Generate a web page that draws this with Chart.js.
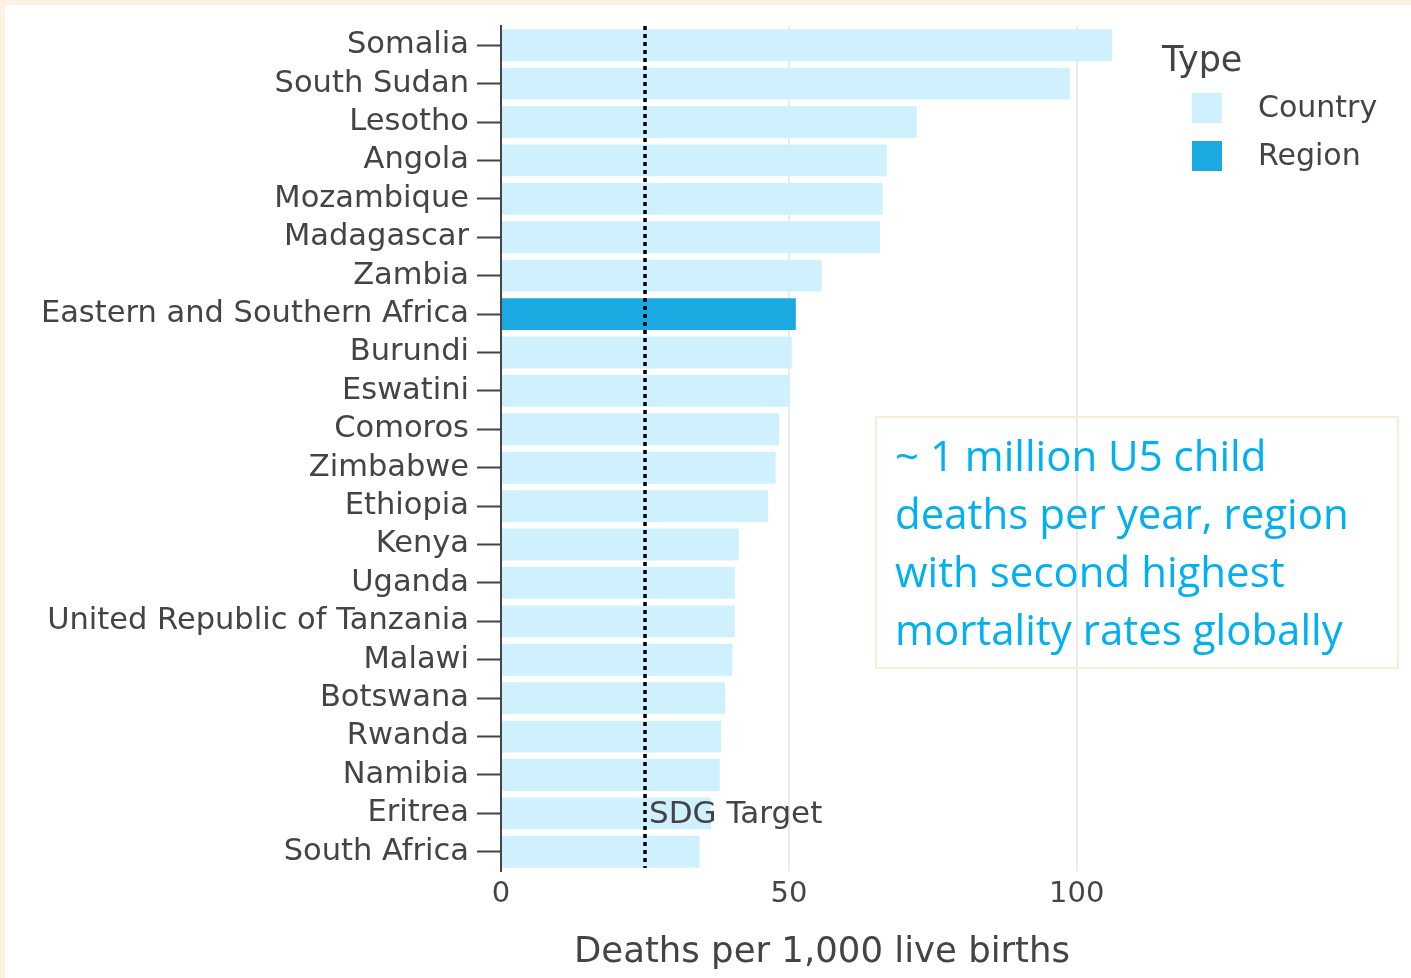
<!DOCTYPE html>
<html>
<head>
<meta charset="utf-8">
<script src="https://cdn.jsdelivr.net/npm/chart.js@4.4.1/dist/chart.umd.min.js"></script>
<style>
  html, body { margin: 0; padding: 0; background: #fbf2e3; }
  #wrap { position: absolute; left: 5px; top: 5px; width: 1406px; height: 973px; background: #fff; }
  canvas { display: block; }
</style>
</head>
<body>
<div id="wrap"><canvas id="u5Chart" width="1406" height="973"></canvas></div>
<script>
const countries = [
  'Somalia', 'South Sudan', 'Lesotho', 'Angola', 'Mozambique', 'Madagascar', 'Zambia',
  'Eastern and Southern Africa', 'Burundi', 'Eswatini', 'Comoros', 'Zimbabwe', 'Ethiopia',
  'Kenya', 'Uganda', 'United Republic of Tanzania', 'Malawi', 'Botswana', 'Rwanda',
  'Namibia', 'Eritrea', 'South Africa'
];
const u5mr = [
  106.1, 98.8, 72.2, 67.0, 66.3, 65.8, 55.7,
  51.2, 50.5, 50.2, 48.3, 47.7, 46.4,
  41.3, 40.6, 40.6, 40.2, 38.9, 38.2,
  38.0, 36.5, 34.5
];
const types = countries.map(c => c === 'Eastern and Southern Africa' ? 'Region' : 'Country');
const sdgTarget = 25;
const xTicks = [0, 50, 100];
const noteLines = [
  '~ 1 million U5 child',
  'deaths per year, region',
  'with second highest',
  'mortality rates globally'
];

const colors = { Country: '#cff1fd', Region: '#1ba9e1' };
const textColor = '#444';
const font = 'DejaVu Sans';

// Target line + label, annotation box, legend
const extras = {
  id: 'extras',
  afterDatasetsDraw(chart) {
    const { ctx, chartArea, scales } = chart;
    const x = Math.round(scales.x.getPixelForValue(sdgTarget));
    ctx.save();
    ctx.strokeStyle = '#000';
    ctx.lineWidth = 3.5;
    ctx.setLineDash([4, 4]);
    ctx.beginPath();
    ctx.moveTo(x, chartArea.top);
    ctx.lineTo(x, chartArea.bottom - 3);
    ctx.stroke();
    ctx.setLineDash([]);

    ctx.fillStyle = textColor;
    ctx.font = '31px "' + font + '"';
    ctx.textAlign = 'left';
    ctx.textBaseline = 'middle';
    ctx.fillText('SDG Target', x + 4, scales.y.getPixelForValue(countries.indexOf('Eritrea')) + 2);
    ctx.restore();
  },
  afterDraw(chart) {
    const { ctx } = chart;
    ctx.save();
    // annotation box
    ctx.strokeStyle = '#f9ecd9';
    ctx.lineWidth = 2;
    ctx.strokeRect(871, 412, 522, 251);
    ctx.fillStyle = '#00b0f0';
    ctx.font = '42px "Open Sans"';
    ctx.textAlign = 'left';
    ctx.textBaseline = 'alphabetic';
    noteLines.forEach((l, i) => ctx.fillText(l, 890, 466 + i * 58));

    // legend
    ctx.fillStyle = textColor;
    ctx.font = '35px "' + font + '"';
    ctx.fillText('Type', 1157, 66);
    ctx.font = '30px "' + font + '"';
    ['Country', 'Region'].forEach((t, i) => {
      const y = 88 + i * 48;
      ctx.fillStyle = colors[t];
      ctx.fillRect(1187, y, 30, 30);
      ctx.fillStyle = textColor;
      ctx.textBaseline = 'middle';
      ctx.fillText(t, 1253, y + 16);
    });
    ctx.restore();
  }
};

new Chart(document.getElementById('u5Chart'), {
  type: 'bar',
  data: {
    labels: countries,
    datasets: ['Country', 'Region'].map(t => ({
      label: t,
      data: u5mr.map((v, i) => types[i] === t ? v : null),
      backgroundColor: colors[t],
      grouped: false,
      barPercentage: 0.83,
      categoryPercentage: 1
    }))
  },
  options: {
    indexAxis: 'y',
    responsive: false,
    animation: false,
    layout: { padding: { top: 21, right: 268, bottom: 0, left: 0 } },
    plugins: { legend: { display: false }, tooltip: { enabled: false } },
    scales: {
      x: {
        min: 0,
        max: 111.5,
        afterBuildTicks: s => { s.ticks = xTicks.map(v => ({ value: v })); },
        afterFit: s => { s.height = 107; s.paddingLeft = 0; s.paddingRight = 0; },
        grid: { color: '#ebebeb', lineWidth: 2, drawTicks: false },
        border: { display: false },
        ticks: { color: textColor, padding: 6, font: { family: font, size: 29 } },
        title: {
          display: true,
          text: 'Deaths per 1,000 live births',
          color: textColor,
          padding: { top: 10, bottom: 4 },
          font: { family: font, size: 35.5 }
        }
      },
      y: {
        afterFit: s => { s.width = 496; s.paddingTop = 0; s.paddingBottom = 0; },
        grid: { offset: false, drawOnChartArea: false, drawTicks: true, tickLength: 24, tickColor: textColor, tickWidth: 2 },
        border: { display: true, color: textColor, width: 2 },
        ticks: { color: textColor, padding: 8, autoSkip: false, font: { family: font, size: 30.5 } }
      }
    }
  },
  plugins: [extras]
});
</script>
</body>
</html>
